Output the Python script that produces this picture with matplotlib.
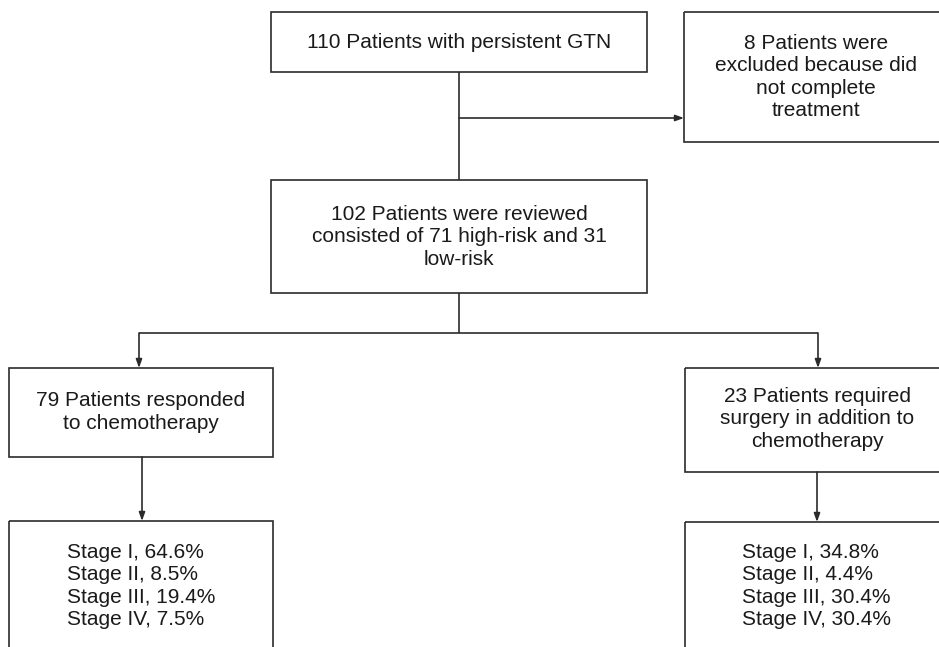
import matplotlib
matplotlib.use("Agg")
import matplotlib.pyplot as plt
from matplotlib.patches import Rectangle

plt.rcParams['font.family'] = ['Liberation Sans', 'DejaVu Sans']

# Flowchart content
top_text = "110 Patients with persistent GTN"
excluded_text = "8 Patients were\nexcluded because did\nnot complete\ntreatment"
reviewed_text = "102 Patients were reviewed\nconsisted of 71 high-risk and 31\nlow-risk"
chemo_text = "79 Patients responded\nto chemotherapy"
surgery_text = "23 Patients required\nsurgery in addition to\nchemotherapy"

stages = ["I", "II", "III", "IV"]
chemo_pct = [64.6, 8.5, 19.4, 7.5]
surgery_pct = [34.8, 4.4, 30.4, 30.4]

LINE = '#2b2b2b'
LW = 1.2
FS = 15


def box(ax, x0, y0, x1, y1):
    ax.add_patch(Rectangle((x0, y0), x1 - x0, y1 - y0, fill=False,
                           edgecolor=LINE, linewidth=LW, clip_on=True))


def line(ax, xs, ys):
    ax.plot(xs, ys, color=LINE, linewidth=LW, solid_capstyle='butt')


def arrow(ax, x0, y0, x1, y1):
    ax.annotate('', xy=(x1, y1), xytext=(x0, y0),
                arrowprops=dict(arrowstyle='-|>,head_length=0.5,head_width=0.18',
                                color=LINE, lw=LW, shrinkA=0, shrinkB=0))


def stage_lines(pcts):
    return "\n".join(f"Stage {s}, {p}%" for s, p in zip(stages, pcts))


fig = plt.figure(figsize=(9.39, 6.47), dpi=100)
ax = fig.add_axes([0, 0, 1, 1])
ax.set_xlim(0, 939)
ax.set_ylim(647, 0)
ax.axis('off')

# boxes
box(ax, 271, 12, 647, 72)
box(ax, 684, 12, 950, 142)
box(ax, 271, 180, 647, 293)
box(ax, 9, 368, 273, 457)
box(ax, 685, 368, 950, 472)
box(ax, 9, 521, 273, 660)
box(ax, 685, 522, 950, 660)

# connectors
line(ax, [459, 459], [72, 180])
arrow(ax, 459, 118, 684, 118)
line(ax, [459, 459], [293, 333])
line(ax, [139, 818], [333, 333])
arrow(ax, 139, 333, 139, 368)
arrow(ax, 818, 333, 818, 368)
arrow(ax, 142, 457, 142, 521)
arrow(ax, 817, 472, 817, 522)

kw = dict(fontsize=FS, color='#1a1a1a', linespacing=1.22)
ax.text(459, 42, top_text, ha='center', va='center', **kw)
ax.text(816, 77, excluded_text, ha='center', va='center', **kw)
ax.text(459, 237, reviewed_text, ha='center', va='center', **kw)
ax.text(141, 412, chemo_text, ha='center', va='center', **kw)
ax.text(817, 419, surgery_text, ha='center', va='center', **kw)
ax.text(67, 586, stage_lines(chemo_pct), ha='left', va='center', **kw)
ax.text(742, 586, stage_lines(surgery_pct), ha='left', va='center', **kw)

fig.savefig('out.png', dpi=100)
